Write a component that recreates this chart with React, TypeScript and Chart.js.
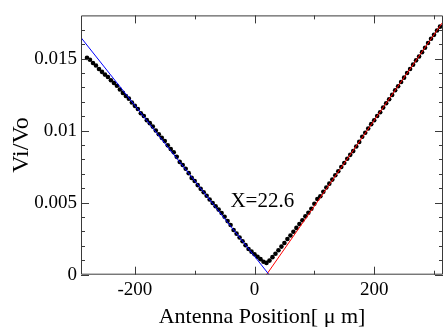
import React, { useEffect, useRef } from "react";
import { Chart, registerables } from "chart.js";

Chart.register(...registerables);

// Measured antenna positions (µm)
const positions = [
  -280, -275, -270, -265, -260, -255, -250, -245, -240, -235,
  -230, -225, -220, -215, -210, -205, -200, -195, -190, -185,
  -180, -175, -170, -165, -160, -155, -150, -145, -140, -135,
  -130, -125, -120, -115, -110, -105, -100, -95, -90, -85,
  -80, -75, -70, -65, -60, -55, -50, -45, -40, -35,
  -30, -25, -20, -15, -10, -5, 0, 5, 10, 15,
  20, 25, 30, 35, 40, 45, 50, 55, 60, 65,
  70, 75, 80, 85, 90, 95, 100, 105, 110, 115,
  120, 125, 130, 135, 140, 145, 150, 155, 160, 165,
  170, 175, 180, 185, 190, 195, 200, 205, 210, 215,
  220, 225, 230, 235, 240, 245, 250, 255, 260, 265,
  270, 275, 280, 285, 290, 295, 300, 305, 310,
];

// Measured Vi/Vo
const ratios = [
  0.01505, 0.01492, 0.0147, 0.01452, 0.01428, 0.01408, 0.01389, 0.01372, 0.0135, 0.01331,
  0.01312, 0.01286, 0.01262, 0.01241, 0.01222, 0.01195, 0.01172, 0.0115, 0.01121, 0.01102,
  0.01073, 0.01052, 0.01028, 0.01001, 0.00975, 0.0095, 0.00928, 0.00898, 0.00872, 0.0085,
  0.00818, 0.00783, 0.00762, 0.00735, 0.00705, 0.00672, 0.0065, 0.00622, 0.00596, 0.00572,
  0.00548, 0.00522, 0.00498, 0.00475, 0.00452, 0.00428, 0.00402, 0.00372, 0.00345, 0.0031,
  0.00285, 0.00258, 0.00232, 0.00205, 0.00178, 0.0016, 0.00142, 0.00125, 0.00108, 0.0009,
  0.00082, 0.00098, 0.00122, 0.00145, 0.0017, 0.00195, 0.0022, 0.00248, 0.00272, 0.00298,
  0.00325, 0.00352, 0.00378, 0.00405, 0.0043, 0.00458, 0.00492, 0.00525, 0.00545, 0.00575,
  0.00605, 0.00632, 0.0066, 0.0069, 0.00718, 0.00748, 0.00775, 0.00805, 0.00832, 0.00858,
  0.0089, 0.00922, 0.00958, 0.00985, 0.01015, 0.01045, 0.01072, 0.01102, 0.01128, 0.0116,
  0.0119, 0.01218, 0.01248, 0.0128, 0.01308, 0.01338, 0.01368, 0.014, 0.01428, 0.01458,
  0.01488, 0.01515, 0.01545, 0.01575, 0.01608, 0.01638, 0.01665, 0.01695, 0.01722,
];

// Linear fits
const leftFitX = [-290, 24.4];
const leftFitY = [0.01646, 0];
const rightFitX = [20, 315];
const rightFitY = [0, 0.01756];

// Axes
const xMin = -290;
const xMax = 315;
const yMin = 0;
const yMax = 0.018;
const xMajorTicks = [-200, 0, 200];
const xMinorTicks = [-100, 100, 300];
const yMajorTicks = [0, 0.005, 0.01, 0.015];
const yTickLabels = ["0", "0.005", "0.01", "0.015"];
const yMinorTicks = [
  0.001, 0.002, 0.003, 0.004, 0.006, 0.007, 0.008, 0.009,
  0.011, 0.012, 0.013, 0.014, 0.016, 0.017,
];

const xTitle = "Antenna Position[ μ m]";
const yTitle = "Vi/Vo";
const annotationText = "X=22.6";
const annotationAt = { x: 13, y: 0.0051 };

const SERIF = "'Liberation Serif', 'Times New Roman', serif";

const framePlugin = {
  id: "frame",
  afterDraw(chart: any) {
    const { ctx, chartArea: a, scales } = chart;
    const xs = scales.x;
    const ys = scales.y;
    ctx.save();
    ctx.strokeStyle = "#3a3a3a";
    ctx.lineWidth = 1;
    ctx.beginPath();
    ctx.rect(a.left + 0.5, a.top + 0.5, a.right - a.left - 1, a.bottom - a.top - 1);
    ctx.stroke();
    ctx.beginPath();
    const xt = (v: number, len: number) => {
      const p = Math.round(xs.getPixelForValue(v)) + 0.5;
      ctx.moveTo(p, a.bottom);
      ctx.lineTo(p, a.bottom - len);
      ctx.moveTo(p, a.top);
      ctx.lineTo(p, a.top + len);
    };
    const yt = (v: number, len: number) => {
      const p = Math.round(ys.getPixelForValue(v)) + 0.5;
      ctx.moveTo(a.left, p);
      ctx.lineTo(a.left + len, p);
      ctx.moveTo(a.right, p);
      ctx.lineTo(a.right - len, p);
    };
    xMajorTicks.forEach((v) => xt(v, 8));
    xMinorTicks.forEach((v) => xt(v, 4));
    yMajorTicks.forEach((v) => yt(v, 8));
    yMinorTicks.forEach((v) => yt(v, 4));
    ctx.stroke();

    ctx.fillStyle = "#000";
    ctx.font = `21px ${SERIF}`;
    ctx.textAlign = "center";
    ctx.textBaseline = "middle";
    ctx.fillText(
      annotationText,
      xs.getPixelForValue(annotationAt.x),
      ys.getPixelForValue(annotationAt.y)
    );
    ctx.restore();
  },
};

export default function App() {
  const canvasRef = useRef<HTMLCanvasElement | null>(null);

  useEffect(() => {
    if (!canvasRef.current) return;
    const chart = new Chart(canvasRef.current, {
      type: "scatter",
      data: {
        datasets: [
          {
            label: "left fit",
            data: leftFitX.map((x, i) => ({ x, y: leftFitY[i] })),
            showLine: true,
            borderColor: "#0000ff",
            borderWidth: 1,
            pointRadius: 0,
            order: 0,
          },
          {
            label: "right fit",
            data: rightFitX.map((x, i) => ({ x, y: rightFitY[i] })),
            showLine: true,
            borderColor: "#ff0000",
            borderWidth: 1,
            pointRadius: 0,
            order: 0,
          },
          {
            label: "data",
            data: positions.map((x, i) => ({ x, y: ratios[i] })),
            backgroundColor: "#000",
            borderWidth: 0,
            pointRadius: 2.3,
            order: 1,
          },
        ],
      },
      options: {
        animation: false,
        responsive: true,
        maintainAspectRatio: false,
        layout: { padding: { top: 12, right: 1, left: 0, bottom: 0 } },
        plugins: {
          legend: { display: false },
          tooltip: { enabled: false },
        },
        scales: {
          x: {
            type: "linear",
            min: xMin,
            max: xMax,
            grid: { display: false, drawTicks: false },
            border: { display: false },
            afterBuildTicks: (s: any) => {
              s.ticks = xMajorTicks.map((v) => ({ value: v }));
            },
            afterFit: (s: any) => {
              s.height = 52.3;
            },
            ticks: {
              color: "#000",
              font: { family: SERIF, size: 19 },
              padding: 4,
              maxRotation: 0,
              callback: (v: any) => String(v),
            },
            title: {
              display: true,
              text: xTitle,
              color: "#000",
              font: { family: SERIF, size: 22 },
              padding: { top: 0, bottom: -3 },
            },
          },
          y: {
            type: "linear",
            min: yMin,
            max: yMax,
            grid: { display: false, drawTicks: false },
            border: { display: false },
            afterBuildTicks: (s: any) => {
              s.ticks = yMajorTicks.map((v) => ({ value: v }));
            },
            afterFit: (s: any) => {
              s.width = 81;
            },
            ticks: {
              color: "#000",
              font: { family: SERIF, size: 19 },
              padding: 4,
              callback: (_v: any, i: number) => yTickLabels[i],
            },
            title: {
              display: true,
              text: yTitle,
              color: "#000",
              font: { family: SERIF, size: 24 },
              padding: { top: 7, bottom: 0 },
            },
          },
        },
      },
      plugins: [framePlugin],
    });
    return () => chart.destroy();
  }, []);

  return (
    <div style={{ position: "absolute", left: 0, top: 0, width: 447, height: 327, background: "#fff" }}>
      <canvas ref={canvasRef} />
    </div>
  );
}
